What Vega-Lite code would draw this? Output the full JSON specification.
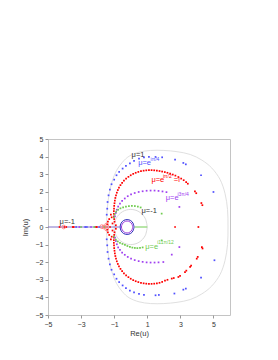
{
 "$schema": "https://vega.github.io/schema/vega-lite/v6.json",
 "width": 182, "height": 176,
 "autosize": {"type": "none"},
 "padding": {"left": 48, "top": 139, "right": 48, "bottom": 45},
 "background": "white",
 "config": {
  "view": {"stroke": "#c4c4c4", "strokeWidth": 1},
  "axis": {"grid": false, "domain": false, "tickColor": "#999", "labelOverlap": false,
   "labelFont": "Liberation Sans", "labelFontSize": 7, "labelColor": "#333",
   "titleFont": "Liberation Sans", "titleFontSize": 7.5, "titleFontWeight": "normal", "titleColor": "#333"},
  "axisQuantitative": {"labelOverlap": false}
 },
 "datasets": {
  "lines": [
   {"s":"gray","o":0,"x":-1.46,"y":0},{"s":"gray","o":1,"x":-1.43,"y":0.9},{"s":"gray","o":2,"x":-1.32,"y":1.8},{"s":"gray","o":3,"x":-1.12,"y":2.6},{"s":"gray","o":4,"x":-0.85,"y":3.22},{"s":"gray","o":5,"x":-0.5,"y":3.68},{"s":"gray","o":6,"x":-0.1,"y":4.02},{"s":"gray","o":7,"x":0.5,"y":4.25},{"s":"gray","o":8,"x":1.2,"y":4.35},{"s":"gray","o":9,"x":2.0,"y":4.35},{"s":"gray","o":10,"x":2.8,"y":4.28},{"s":"gray","o":11,"x":3.6,"y":4.12},{"s":"gray","o":12,"x":4.3,"y":3.8},{"s":"gray","o":13,"x":4.9,"y":3.35},{"s":"gray","o":14,"x":5.4,"y":2.7},{"s":"gray","o":15,"x":5.7,"y":1.9},{"s":"gray","o":16,"x":5.85,"y":1.0},{"s":"gray","o":17,"x":5.88,"y":0},
   {"s":"gray","o":18,"x":5.85,"y":-1.0},{"s":"gray","o":19,"x":5.7,"y":-1.9},{"s":"gray","o":20,"x":5.4,"y":-2.7},{"s":"gray","o":21,"x":4.9,"y":-3.35},{"s":"gray","o":22,"x":4.3,"y":-3.8},{"s":"gray","o":23,"x":3.6,"y":-4.12},{"s":"gray","o":24,"x":2.8,"y":-4.28},{"s":"gray","o":25,"x":2.0,"y":-4.35},{"s":"gray","o":26,"x":1.2,"y":-4.35},{"s":"gray","o":27,"x":0.5,"y":-4.25},{"s":"gray","o":28,"x":-0.1,"y":-4.02},{"s":"gray","o":29,"x":-0.5,"y":-3.68},{"s":"gray","o":30,"x":-0.85,"y":-3.22},{"s":"gray","o":31,"x":-1.12,"y":-2.6},{"s":"gray","o":32,"x":-1.32,"y":-1.8},{"s":"gray","o":33,"x":-1.43,"y":-0.9},{"s":"gray","o":34,"x":-1.46,"y":0},
   {"s":"gray2","o":0,"x":1.0,"y":0},{"s":"gray2","o":1,"x":0.87,"y":0.5},{"s":"gray2","o":2,"x":0.5,"y":0.87},{"s":"gray2","o":3,"x":0,"y":1.0},{"s":"gray2","o":4,"x":-0.5,"y":0.87},{"s":"gray2","o":5,"x":-0.87,"y":0.5},{"s":"gray2","o":6,"x":-1.0,"y":0},{"s":"gray2","o":7,"x":-0.87,"y":-0.5},{"s":"gray2","o":8,"x":-0.5,"y":-0.87},{"s":"gray2","o":9,"x":0,"y":-1.0},{"s":"gray2","o":10,"x":0.5,"y":-0.87},{"s":"gray2","o":11,"x":0.87,"y":-0.5},{"s":"gray2","o":12,"x":1.0,"y":0},
   {"s":"axl","o":0,"x":-5,"y":0},{"s":"axl","o":1,"x":-0.67,"y":0},
   {"s":"gl","o":0,"x":0.23,"y":0},{"s":"gl","o":1,"x":1.0,"y":0},
   {"s":"ring","o":0,"x":0.2,"y":0},{"s":"ring","o":1,"x":0.14,"y":0.215},{"s":"ring","o":2,"x":-0.01,"y":0.37},{"s":"ring","o":3,"x":-0.22,"y":0.42},{"s":"ring","o":4,"x":-0.43,"y":0.37},{"s":"ring","o":5,"x":-0.58,"y":0.215},{"s":"ring","o":6,"x":-0.64,"y":0},{"s":"ring","o":7,"x":-0.58,"y":-0.215},{"s":"ring","o":8,"x":-0.43,"y":-0.37},{"s":"ring","o":9,"x":-0.22,"y":-0.42},{"s":"ring","o":10,"x":-0.01,"y":-0.37},{"s":"ring","o":11,"x":0.14,"y":-0.215},{"s":"ring","o":12,"x":0.2,"y":0},
   {"s":"ringp","o":0,"x":0.12,"y":0},{"s":"ringp","o":1,"x":0.07,"y":0.17},{"s":"ringp","o":2,"x":-0.05,"y":0.29},{"s":"ringp","o":3,"x":-0.22,"y":0.34},{"s":"ringp","o":4,"x":-0.39,"y":0.29},{"s":"ringp","o":5,"x":-0.51,"y":0.17},{"s":"ringp","o":6,"x":-0.56,"y":0},{"s":"ringp","o":7,"x":-0.51,"y":-0.17},{"s":"ringp","o":8,"x":-0.39,"y":-0.29},{"s":"ringp","o":9,"x":-0.22,"y":-0.34},{"s":"ringp","o":10,"x":-0.05,"y":-0.29},{"s":"ringp","o":11,"x":0.07,"y":-0.17},{"s":"ringp","o":12,"x":0.12,"y":0}
  ],
  "pts": [
   {"s":"r","x":-0.98,"y":0.3},{"s":"r","x":-1.0,"y":0.45},{"s":"r","x":-1.02,"y":0.6},{"s":"r","x":-1.02,"y":0.75},{"s":"r","x":-1.02,"y":0.9},{"s":"r","x":-1.01,"y":1.05},{"s":"r","x":-1.0,"y":1.2},{"s":"r","x":-0.98,"y":1.35},{"s":"r","x":-0.96,"y":1.5},{"s":"r","x":-0.93,"y":1.65},{"s":"r","x":-0.89,"y":1.8},{"s":"r","x":-0.84,"y":1.95},{"s":"r","x":-0.78,"y":2.1},{"s":"r","x":-0.71,"y":2.24},{"s":"r","x":-0.62,"y":2.38},{"s":"r","x":-0.52,"y":2.51},{"s":"r","x":-0.41,"y":2.63},{"s":"r","x":-0.28,"y":2.75},{"s":"r","x":-0.14,"y":2.85},{"s":"r","x":0.0,"y":2.94},{"s":"r","x":0.15,"y":3.02},{"s":"r","x":0.3,"y":3.08},{"s":"r","x":0.46,"y":3.13},{"s":"r","x":0.62,"y":3.17},{"s":"r","x":0.78,"y":3.2},{"s":"r","x":0.94,"y":3.22},{"s":"r","x":1.1,"y":3.23},{"s":"r","x":1.26,"y":3.23},{"s":"r","x":1.42,"y":3.22},{"s":"r","x":1.58,"y":3.2},{"s":"r","x":1.74,"y":3.18},{"s":"r","x":1.9,"y":3.15},{"s":"r","x":2.06,"y":3.12},{"s":"r","x":2.22,"y":3.08},{"s":"r","x":2.38,"y":3.03},{"s":"r","x":2.54,"y":2.98},{"s":"r","x":2.7,"y":2.92},{"s":"r","x":2.88,"y":2.84},{"s":"r","x":3.05,"y":2.75},{"s":"r","x":3.2,"y":2.66},{"s":"r","x":3.35,"y":2.55},{"s":"r","x":3.45,"y":2.46},{"s":"r","x":3.88,"y":2.02},{"s":"r","x":3.96,"y":1.92},{"s":"r","x":4.27,"y":1.36},{"s":"r","x":4.33,"y":1.24},
   {"s":"r","x":-0.98,"y":-0.3},{"s":"r","x":-1.0,"y":-0.45},{"s":"r","x":-1.02,"y":-0.6},{"s":"r","x":-1.02,"y":-0.75},{"s":"r","x":-1.02,"y":-0.9},{"s":"r","x":-1.01,"y":-1.05},{"s":"r","x":-1.0,"y":-1.2},{"s":"r","x":-0.98,"y":-1.35},{"s":"r","x":-0.96,"y":-1.5},{"s":"r","x":-0.93,"y":-1.65},{"s":"r","x":-0.89,"y":-1.8},{"s":"r","x":-0.84,"y":-1.95},{"s":"r","x":-0.78,"y":-2.1},{"s":"r","x":-0.71,"y":-2.24},{"s":"r","x":-0.62,"y":-2.38},{"s":"r","x":-0.52,"y":-2.51},{"s":"r","x":-0.41,"y":-2.63},{"s":"r","x":-0.28,"y":-2.75},{"s":"r","x":-0.14,"y":-2.85},{"s":"r","x":0.0,"y":-2.94},{"s":"r","x":0.15,"y":-3.02},{"s":"r","x":0.3,"y":-3.08},{"s":"r","x":0.46,"y":-3.13},{"s":"r","x":0.62,"y":-3.17},{"s":"r","x":0.78,"y":-3.2},{"s":"r","x":0.94,"y":-3.22},{"s":"r","x":1.1,"y":-3.23},{"s":"r","x":1.26,"y":-3.23},{"s":"r","x":1.42,"y":-3.22},{"s":"r","x":1.58,"y":-3.2},{"s":"r","x":1.74,"y":-3.17},{"s":"r","x":1.9,"y":-3.12},{"s":"r","x":2.07,"y":-3.05},{"s":"r","x":2.22,"y":-3.0},{"s":"r","x":2.48,"y":-2.93},{"s":"r","x":2.6,"y":-2.9},{"s":"r","x":2.88,"y":-2.84},{"s":"r","x":2.98,"y":-2.78},{"s":"r","x":3.28,"y":-2.56},{"s":"r","x":3.36,"y":-2.48},{"s":"r","x":3.59,"y":-2.27},{"s":"r","x":3.65,"y":-2.2},{"s":"r","x":3.99,"y":-1.8},{"s":"r","x":4.05,"y":-1.7},{"s":"r","x":4.3,"y":-1.14},{"s":"r","x":4.34,"y":-1.22},
   {"s":"r","x":2.68,"y":0},{"s":"r","x":4.09,"y":0},
   {"s":"r","x":-1.3,"y":0.45},{"s":"r","x":-1.38,"y":0.3},{"s":"r","x":-1.42,"y":0.15},{"s":"r","x":-1.42,"y":-0.15},{"s":"r","x":-1.38,"y":-0.3},{"s":"r","x":-1.3,"y":-0.45},{"s":"r","x":-1.15,"y":0.55},{"s":"r","x":-1.1,"y":0.2},{"s":"r","x":-1.1,"y":-0.2},{"s":"r","x":-1.15,"y":-0.55},{"s":"r","x":-1.2,"y":0.7},{"s":"r","x":-1.2,"y":-0.7},{"s":"r","x":-0.9,"y":0.1},{"s":"r","x":-0.9,"y":-0.1},
   {"s":"r","x":-4.3,"y":0},{"s":"r","x":-4.0,"y":0},{"s":"r","x":-3.9,"y":0},{"s":"r","x":-3.5,"y":0},{"s":"r","x":-3.45,"y":0},{"s":"r","x":-2.1,"y":0},{"s":"r","x":-2.05,"y":0},{"s":"r","x":-1.25,"y":0},
   {"s":"b","x":-3.3,"y":0},{"s":"b","x":-2.75,"y":0},{"s":"b","x":-2.65,"y":0},{"s":"b","x":-1.9,"y":0},
   {"s":"p","x":-3.1,"y":0},{"s":"p","x":-2.4,"y":0},
   {"s":"g","x":-3.0,"y":0},{"s":"g","x":-2.2,"y":0},{"s":"g","x":-1.6,"y":0},
   {"s":"b","x":-1.45,"y":0.7},{"s":"b","x":-1.42,"y":1.04},{"s":"b","x":-1.4,"y":1.42},{"s":"b","x":-1.34,"y":1.8},{"s":"b","x":-1.26,"y":2.13},{"s":"b","x":-1.16,"y":2.43},{"s":"b","x":-1.0,"y":2.69},{"s":"b","x":-0.86,"y":2.94},{"s":"b","x":-0.7,"y":3.13},{"s":"b","x":-0.49,"y":3.32},{"s":"b","x":-0.29,"y":3.47},{"s":"b","x":-0.05,"y":3.62},{"s":"b","x":0.2,"y":3.76},{"s":"b","x":0.5,"y":3.88},{"s":"b","x":0.8,"y":3.95},{"s":"b","x":1.1,"y":3.98},{"s":"b","x":1.5,"y":3.98},{"s":"b","x":1.9,"y":3.96},{"s":"b","x":2.68,"y":3.83},{"s":"b","x":3.18,"y":3.64},{"s":"b","x":3.33,"y":3.56},{"s":"b","x":4.25,"y":2.94},{"s":"b","x":5.0,"y":1.99},
   {"s":"b","x":-1.45,"y":-0.7},{"s":"b","x":-1.42,"y":-1.04},{"s":"b","x":-1.4,"y":-1.42},{"s":"b","x":-1.34,"y":-1.8},{"s":"b","x":-1.26,"y":-2.13},{"s":"b","x":-1.16,"y":-2.43},{"s":"b","x":-1.0,"y":-2.69},{"s":"b","x":-0.86,"y":-2.94},{"s":"b","x":-0.7,"y":-3.13},{"s":"b","x":-0.49,"y":-3.32},{"s":"b","x":-0.29,"y":-3.47},{"s":"b","x":-0.05,"y":-3.62},{"s":"b","x":0.2,"y":-3.72},{"s":"b","x":0.5,"y":-3.8},{"s":"b","x":0.8,"y":-3.86},{"s":"b","x":1.5,"y":-3.88},{"s":"b","x":1.7,"y":-3.86},{"s":"b","x":2.64,"y":-3.78},{"s":"b","x":3.18,"y":-3.56},{"s":"b","x":3.33,"y":-3.5},{"s":"b","x":4.25,"y":-2.88},{"s":"b","x":5.06,"y":-1.89},
   {"s":"p","x":-0.95,"y":0.6},{"s":"p","x":-0.9,"y":0.8},{"s":"p","x":-0.84,"y":0.98},{"s":"p","x":-0.76,"y":1.16},{"s":"p","x":-0.65,"y":1.33},{"s":"p","x":-0.52,"y":1.48},{"s":"p","x":-0.36,"y":1.62},{"s":"p","x":-0.18,"y":1.75},{"s":"p","x":0.02,"y":1.85},{"s":"p","x":0.24,"y":1.93},{"s":"p","x":0.48,"y":1.99},{"s":"p","x":0.72,"y":2.03},{"s":"p","x":0.96,"y":2.06},{"s":"p","x":1.2,"y":2.07},{"s":"p","x":1.44,"y":2.07},{"s":"p","x":1.68,"y":2.05},{"s":"p","x":1.92,"y":2.02},{"s":"p","x":2.16,"y":1.98},{"s":"p","x":2.94,"y":1.14},
   {"s":"p","x":-0.95,"y":-0.6},{"s":"p","x":-0.9,"y":-0.8},{"s":"p","x":-0.84,"y":-0.98},{"s":"p","x":-0.76,"y":-1.16},{"s":"p","x":-0.65,"y":-1.3},{"s":"p","x":-0.52,"y":-1.45},{"s":"p","x":-0.36,"y":-1.58},{"s":"p","x":-0.18,"y":-1.7},{"s":"p","x":0.02,"y":-1.8},{"s":"p","x":0.24,"y":-1.88},{"s":"p","x":0.48,"y":-1.94},{"s":"p","x":0.72,"y":-1.98},{"s":"p","x":0.96,"y":-2.01},{"s":"p","x":1.2,"y":-2.02},{"s":"p","x":1.44,"y":-2.02},{"s":"p","x":1.68,"y":-2.01},{"s":"p","x":1.97,"y":-1.99},{"s":"p","x":2.48,"y":-1.57},{"s":"p","x":2.94,"y":-1.14},
   {"s":"g","x":-1.02,"y":0.55},{"s":"g","x":-0.97,"y":0.72},{"s":"g","x":-0.88,"y":0.87},{"s":"g","x":-0.76,"y":0.98},{"s":"g","x":-0.62,"y":1.06},{"s":"g","x":-0.46,"y":1.12},{"s":"g","x":-0.29,"y":1.16},{"s":"g","x":-0.11,"y":1.19},{"s":"g","x":0.07,"y":1.2},{"s":"g","x":0.25,"y":1.19},{"s":"g","x":0.43,"y":1.16},{"s":"g","x":0.6,"y":1.11},{"s":"g","x":1.87,"y":0.76},
   {"s":"g","x":-1.02,"y":-0.55},{"s":"g","x":-0.9,"y":-0.72},{"s":"g","x":-0.78,"y":-0.82},{"s":"g","x":-0.65,"y":-0.9},{"s":"g","x":-0.5,"y":-0.96},{"s":"g","x":-0.35,"y":-1.02},{"s":"g","x":-0.2,"y":-1.08},{"s":"g","x":-0.05,"y":-1.13},{"s":"g","x":0.1,"y":-1.17},{"s":"g","x":0.25,"y":-1.19},{"s":"g","x":0.4,"y":-1.2},{"s":"g","x":0.56,"y":-1.19},{"s":"g","x":0.72,"y":-1.16},{"s":"g","x":1.87,"y":-0.76}
  ],
  "pink": [
   {"s":"pk","x":-1.62,"y":0},{"s":"pk","x":-1.45,"y":0.12},{"s":"pk","x":-1.45,"y":-0.12},{"s":"pk","x":-1.75,"y":0.02},{"s":"pk","x":-4.05,"y":0}
  ],
  "lab": [
   {"s":"k","t":"μ=1","x":0.05,"y":4.1},
   {"s":"b","t":"μ=e","x":0.45,"y":3.62},
   {"s":"r","t":"μ=e","x":1.25,"y":2.65},
   {"s":"r","t":"=i","x":2.6,"y":2.65},
   {"s":"p","t":"μ=e","x":2.12,"y":1.62},
   {"s":"k","t":"μ=-1","x":0.65,"y":0.9},
   {"s":"g","t":"μ=e","x":0.88,"y":-1.15},
   {"s":"k","t":"μ=-1","x":-4.3,"y":0.3}
  ],
  "sup": [
   {"s":"b","t":"iπ/4","x":1.2,"y":3.88},
   {"s":"r","t":"iπ/2","x":1.95,"y":2.92},
   {"s":"p","t":"i3π/4","x":2.82,"y":1.88},
   {"s":"g","t":"i11π/12","x":1.6,"y":-0.88}
  ]
 },
 "encoding": {
  "x": {"field": "x", "type": "quantitative", "scale": {"domain": [-5, 6], "nice": false, "zero": false},
   "axis": {"values": [-5, -3, -1, 1, 3, 5], "title": "Re(u)", "labelOverlap": false, "labelFlush": false, "tickSize": 3, "labelPadding": 2, "titlePadding": 2}},
  "y": {"field": "y", "type": "quantitative", "scale": {"domain": [-5, 5], "nice": false, "zero": false},
   "axis": {"values": [-5, -4, -3, -2, -1, 0, 1, 2, 3, 4, 5], "title": "Im(u)", "labelOverlap": false, "labelFlush": false, "tickSize": 3, "labelPadding": 2, "titlePadding": 6}},
  "color": {"field": "s", "type": "nominal", "legend": null,
   "scale": {"domain": ["r","b","p","g","gray","gray2","axl","gl","ring","ringp","pk","k"],
    "range": ["#ff0000","#5050ff","#a040f0","#70cc50","#e0e0e0","#dadada","#8070c8","#70cc50","#2828b8","#a040e0","#ff7070","#333333"]}}
 },
 "layer": [
  {
   "data": {"name": "lines"},
   "mark": {"type": "line", "interpolate": "cardinal", "strokeWidth": 1},
   "encoding": {
    "detail": {"field": "s"},
    "order": {"field": "o", "type": "quantitative"},
    "size": {"field": "s", "type": "nominal", "legend": null,
     "scale": {"domain": ["gray","gray2","axl","gl","ring","ringp"], "range": [1, 1, 1, 1.5, 2.2, 1.2]}}
   }
  },
  {
   "data": {"name": "pts"},
   "mark": {"type": "point", "shape": "square", "filled": true, "size": 3, "opacity": 1},
   "encoding": {}
  },
  {
   "data": {"name": "pink"},
   "mark": {"type": "point", "shape": "circle", "filled": false, "size": 14, "strokeWidth": 0.8, "opacity": 1},
   "encoding": {}
  },
  {
   "data": {"name": "lab"},
   "mark": {"type": "text", "align": "left", "baseline": "middle", "font": "Liberation Sans", "fontSize": 7.5},
   "encoding": {"text": {"field": "t"}}
  },
  {
   "data": {"name": "sup"},
   "mark": {"type": "text", "align": "left", "baseline": "middle", "font": "Liberation Sans", "fontSize": 5},
   "encoding": {"text": {"field": "t"}}
  }
 ]
}
